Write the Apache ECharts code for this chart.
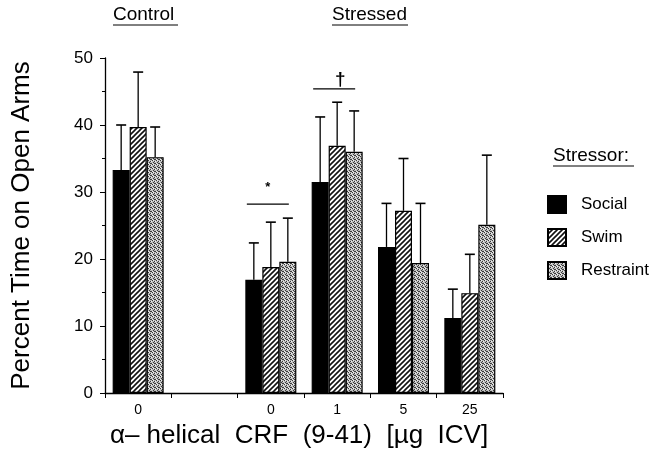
<!DOCTYPE html>
<html><head><meta charset="utf-8">
<script src="https://cdn.jsdelivr.net/npm/echarts@6/dist/echarts.min.js"></script>
<style>html,body{margin:0;padding:0;background:#fff}#c{width:652px;height:453px}</style>
</head><body><div id="c"></div>
<script>
// ---- data ----
const categories = ['0', '', '0', '1', '5', '25'];
const seriesNames = ['Social', 'Swim', 'Restraint'];
const socialMean = [33.3, null, 16.9, 31.5, 21.8, 11.2];
const socialErr  = [40.0, null, 22.4, 41.2, 28.3, 15.5];
const swimMean   = [39.7, null, 18.8, 36.9, 27.2, 14.9];
const swimErr    = [47.9, null, 25.5, 43.4, 35.0, 20.7];
const restMean   = [35.2, null, 19.6, 36.0, 19.4, 25.1];
const restErr    = [39.7, null, 26.1, 42.1, 28.3, 35.5];
const yTicks = [0, 10, 20, 30, 40, 50];
const sigCats = [2, 3];
const sigValues = [28.2, 45.4];
const sigMarks = ['*', '\u2020'];
const groupLabels = ['Control', 'Stressed'];
const legendTitle = 'Stressor:';
const xTitle = '\u03b1\u2013 helical  CRF  (9-41)  [\u00b5g  ICV]';
const yTitle = 'Percent Time on Open Arms';

// ---- patterns ----
function hatch() {
  const c = document.createElement('canvas'); c.width = 5; c.height = 5;
  const g = c.getContext('2d');
  g.fillStyle = '#fff'; g.fillRect(0, 0, 5, 5);
  g.strokeStyle = '#111'; g.lineWidth = 1.6;
  g.beginPath();
  g.moveTo(-1, 6); g.lineTo(6, -1);
  g.moveTo(-1, 1); g.lineTo(1, -1);
  g.moveTo(4, 6); g.lineTo(6, 4);
  g.stroke();
  return c;
}
function stipple() {
  const c = document.createElement('canvas'); c.width = 4; c.height = 4;
  const g = c.getContext('2d');
  g.fillStyle = '#bcbcbc'; g.fillRect(0, 0, 4, 4);
  g.fillStyle = '#3a3a3a';
  [[0,0],[2,1],[1,2],[3,3],[2,3]].forEach(p => g.fillRect(p[0], p[1], 1, 1));
  g.fillStyle = '#eee';
  [[1,0],[3,1],[0,3]].forEach(p => g.fillRect(p[0], p[1], 1, 1));
  return c;
}
const fills = ['#000', { image: hatch(), repeat: 'repeat' }, { image: stipple(), repeat: 'repeat' }];
const means = [socialMean, swimMean, restMean];
const errs = [socialErr, swimErr, restErr];
const BW = 17;
const FONT = 'Liberation Sans';

const series = [];
seriesNames.forEach((n, i) => {
  series.push({
    name: n, type: 'bar', barWidth: BW, barGap: '0%',
    data: means[i],
    itemStyle: { color: fills[i], borderColor: '#000', borderWidth: 1.2 },
    z: 2
  });
});
seriesNames.forEach((n, i) => {
  series.push({
    name: n + ' err', type: 'custom', z: 5,
    data: categories.map((c, k) => means[i][k] == null ? null : [k, means[i][k], errs[i][k]]).filter(d => d),
    renderItem: function (params, api) {
      const p = api.coord([api.value(0), api.value(1)]);
      const t = api.coord([api.value(0), api.value(2)]);
      const x = p[0] + (i - 1) * BW;
      return { type: 'group', children: [
        { type: 'line', shape: { x1: x, y1: p[1], x2: x, y2: t[1] }, style: { stroke: '#000', lineWidth: 1.3 } },
        { type: 'line', shape: { x1: x - 5, y1: t[1], x2: x + 5, y2: t[1] }, style: { stroke: '#000', lineWidth: 1.6 } }
      ]};
    }
  });
});
series.push({
  name: 'sig', type: 'custom', z: 5,
  data: sigCats.map((c, k) => [c, sigValues[k], k]),
  renderItem: function (params, api) {
    const p = api.coord([api.value(0), api.value(1)]);
    const k = api.value(2);
    const cx = p[0] - 3;
    return { type: 'group', children: [
      { type: 'line', shape: { x1: cx - 21, y1: p[1], x2: cx + 21, y2: p[1] }, style: { stroke: '#000', lineWidth: 1.3 } },
      { type: 'text', style: { text: sigMarks[k], x: cx + (k === 0 ? 0 : 6), y: p[1] - (k === 0 ? 10 : 0), align: 'center', verticalAlign: 'bottom',
        font: (k === 0 ? 'bold 13px ' : 'bold 19px ') + FONT, fill: '#000' } }
    ]};
  }
});

const chart = echarts.init(document.getElementById('c'), null, { renderer: 'canvas' });
chart.setOption({
  animation: false,
  backgroundColor: '#fff',
  grid: { left: 105, right: 149, top: 58, bottom: 60, containLabel: false, outerBoundsMode: 'none' },
  legend: {
    data: seriesNames, orient: 'vertical', left: 547, top: 195, padding: 0,
    itemWidth: 18, itemHeight: 17, itemGap: 14, icon: 'rect',
    textStyle: { fontFamily: FONT, fontSize: 17, color: '#000', padding: [0, 0, 0, 10] },
    selectedMode: false
  },
  xAxis: {
    type: 'category', data: categories,
    name: xTitle, nameLocation: 'middle', nameGap: 30,
    nameTextStyle: { fontFamily: FONT, fontSize: 26, color: '#000', padding: [0, 10, 0, 0] },
    axisLine: { lineStyle: { color: '#000', width: 1.3 } },
    axisTick: { show: true, length: 5, inside: false, lineStyle: { color: '#000' } },
    axisLabel: { fontFamily: FONT, fontSize: 14, color: '#000', margin: 10 }
  },
  yAxis: {
    type: 'value', min: 0, max: 50, interval: 10,
    name: yTitle, nameLocation: 'middle', nameGap: 70, nameRotate: 90,
    nameTextStyle: { fontFamily: FONT, fontSize: 26, color: '#000' },
    axisLine: { show: true, lineStyle: { color: '#000', width: 1.3 } },
    axisTick: { show: true, length: 5, lineStyle: { color: '#000' } },
    minorTick: { show: true, splitNumber: 2, length: 3, lineStyle: { color: '#000' } },
    splitLine: { show: false },
    axisLabel: { fontFamily: FONT, fontSize: 17, color: '#000', margin: 12,
      formatter: v => yTicks.indexOf(v) >= 0 ? String(v) : '' }
  },
  graphic: [
    { type: 'text', left: 113, top: 5, style: { text: groupLabels[0], font: '19px ' + FONT, fill: '#000' } },
    { type: 'line', shape: { x1: 113, y1: 25, x2: 178, y2: 25 }, style: { stroke: '#000', lineWidth: 1 } },
    { type: 'text', left: 332, top: 5, style: { text: groupLabels[1], font: '19px ' + FONT, fill: '#000' } },
    { type: 'line', shape: { x1: 332, y1: 25, x2: 408, y2: 25 }, style: { stroke: '#000', lineWidth: 1 } },
    { type: 'text', left: 553, top: 146, style: { text: legendTitle, font: '19px ' + FONT, fill: '#000' } },
    { type: 'line', shape: { x1: 553, y1: 166, x2: 634, y2: 166 }, style: { stroke: '#000', lineWidth: 1 } }
  ],
  series: series
});
</script></body></html>
